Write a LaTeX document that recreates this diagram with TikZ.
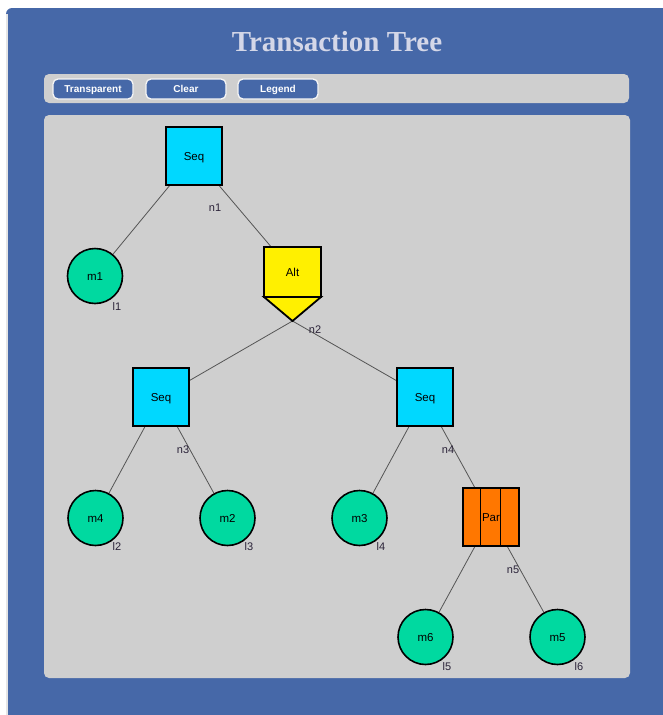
\documentclass[tikz,border=0pt]{standalone}
\usepackage{fontspec}
\newfontfamily\uisans{Liberation Sans}
\newfontfamily\uititle{Liberation Serif}
\definecolor{pageblue}{HTML}{4668A8}
\definecolor{panelgray}{HTML}{CFCFCF}
\definecolor{seqcyan}{HTML}{00D8FF}
\definecolor{altyellow}{HTML}{FFF000}
\definecolor{parorange}{HTML}{FF7700}
\definecolor{leafgreen}{HTML}{00D9A0}
\definecolor{edgegray}{HTML}{555555}
\definecolor{labelink}{HTML}{2A2238}
\definecolor{titleink}{HTML}{D4D7E8}
\pgfdeclarelayer{back}
\pgfdeclarelayer{wires}
\pgfsetlayers{back,wires,main}
\tikzset{
  uibutton/.style={rounded corners=5pt, fill=pageblue, draw=white!92!gray, line width=1.3pt,
    minimum width=80pt, minimum height=20pt, inner sep=0pt, text height=7.5pt, text depth=0pt,
    font=\uisans\bfseries\fontsize{10}{12}\selectfont, text=white},
  nodefont/.style={font=\uisans\fontsize{11.5}{13}\selectfont, text height=8.3pt, text depth=0pt},
  seqbox/.style={nodefont, draw=black, line width=1.8pt, fill=seqcyan, minimum width=56pt,
    minimum height=58pt, inner sep=0pt},
  altbox/.style={nodefont, draw=black, line width=1.8pt, fill=altyellow, minimum width=57pt,
    minimum height=50pt, inner sep=0pt},
  parbox/.style={nodefont, draw=black, line width=1.8pt, fill=parorange, minimum width=56pt,
    minimum height=58pt, inner sep=0pt},
  leaf/.style={nodefont, circle, draw=black, line width=1.6pt, fill=leafgreen, minimum size=55pt,
    inner sep=0pt},
  tag/.style={font=\uisans\fontsize{11}{13}\selectfont, text=labelink, inner sep=0pt},
  edge/.style={draw=edgegray, line width=0.8pt},
}
\begin{document}
\begin{tikzpicture}[x=1pt,y=-1pt]
  \useasboundingbox (0,0) rectangle (662,715);
  \begin{pgfonlayer}{back}
    \fill[white] (0,0) rectangle (662,715);
    % page background and panels
    \fill[pageblue, rounded corners=6pt] (6,8) rectangle (680,740);
    \fill[white!80!gray] (6,14) rectangle (7.5,715);
    \fill[panelgray, rounded corners=5pt] (44,74) rectangle (629,103);
    \fill[panelgray, rounded corners=5pt] (44,115) rectangle (630,678);
  \end{pgfonlayer}
  \node[font=\uititle\bfseries\fontsize{29}{34}\selectfont, text=titleink] (title) at (337,42) {Transaction Tree};

  % toolbar buttons
  \node[uibutton] (btnTransparent) at (93,89) {Transparent};
  \node[uibutton] (btnClear) at (186,89) {Clear};
  \node[uibutton] (btnLegend) at (278,89) {Legend};

  % tree nodes
  \node[seqbox] (n1) at (194,156) {Seq};
  \node[leaf] (m1) at (95,276) {m1};
  \coordinate (n2tip) at (292.5,321);
  \filldraw[fill=altyellow, draw=black, line width=1.8pt, line join=miter]
    (264,297) -- (n2tip) -- (321,297) -- cycle;
  \node[altbox] (n2) at (292.5,272) {Alt};
  \node[seqbox] (n3) at (161,397) {Seq};
  \node[seqbox] (n4) at (425,397) {Seq};
  \node[leaf] (m4) at (95.5,518) {m4};
  \node[leaf] (m2) at (227.5,518) {m2};
  \node[leaf] (m3) at (359.5,518) {m3};
  \node[parbox] (n5) at (491,517) {};
  \draw[black, line width=1.8pt] (480.5,488) -- (480.5,546) (500.5,488) -- (500.5,546);
  \node[nodefont, inner sep=0pt] (parlabel) at (n5) {Par};
  \node[leaf] (m6) at (425.5,637) {m6};
  \node[leaf] (m5) at (557.5,637) {m5};

  % connectors, kept under the shapes
  \begin{pgfonlayer}{wires}
    \path[edge] (n1.center) -- (m1.center);
    \path[edge] (n1.center) -- (n2.center);
    \path[edge] (n2tip) -- (n3.center);
    \path[edge] (n2tip) -- (n4.center);
    \path[edge] (n3.center) -- (m4.center);
    \path[edge] (n3.center) -- (m2.center);
    \path[edge] (n4.center) -- (m3.center);
    \path[edge] (n4.center) -- (n5.center);
    \path[edge] (n5.center) -- (m6.center);
    \path[edge] (n5.center) -- (m5.center);
  \end{pgfonlayer}

  % node and leaf tags
  \node[tag] (t1) at (215,208) {n1};
  \node[tag] (t2) at (315,330) {n2};
  \node[tag] (t3) at (183,450) {n3};
  \node[tag] (t4) at (448,450) {n4};
  \node[tag] (t5) at (513,570) {n5};
  \node[tag] (s1) at (117,307) {l1};
  \node[tag] (s2) at (117,547) {l2};
  \node[tag] (s3) at (249,547) {l3};
  \node[tag] (s4) at (381,547) {l4};
  \node[tag] (s5) at (447,667) {l5};
  \node[tag] (s6) at (579,667) {l6};
\end{tikzpicture}
\end{document}
